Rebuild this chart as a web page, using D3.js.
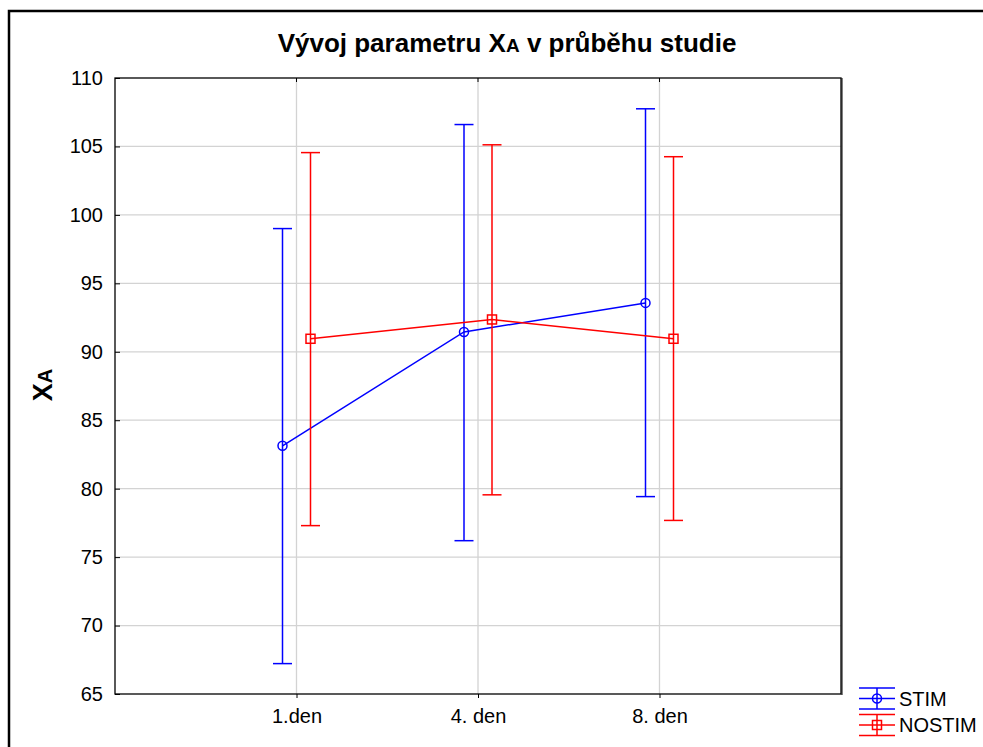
<!DOCTYPE html>
<html><head><meta charset="utf-8">
<script src="https://cdn.jsdelivr.net/npm/d3@7"></script>
<style>body{margin:0;background:#fff}svg{display:block}text{font-family:"Liberation Sans",Arial,sans-serif}</style>
</head><body>
<script>
const categories = ["1.den", "4. den", "8. den"];
const seriesNames = ["STIM", "NOSTIM"];
const stimMean = [83.13, 91.45, 93.57];
const stimLow  = [67.22, 76.2, 79.42];
const stimHigh = [99.0, 106.6, 107.75];
const nostimMean = [90.95, 92.36, 90.95];
const nostimLow  = [77.3, 79.55, 77.68];
const nostimHigh = [104.55, 105.12, 104.25];
const yTicks = [65, 70, 75, 80, 85, 90, 95, 100, 105, 110];

const W = 983, H = 747;
const m = {left: 115, right: 841, top: 78, bottom: 694};
const svg = d3.select("body").append("svg").attr("width", W).attr("height", H);

// outer frame
svg.append("path").attr("d", `M9,${H+5} L9,11 L${W+5},11`).attr("fill", "none").attr("stroke", "#000").attr("stroke-width", 2.5);

const x = d3.scalePoint().domain(categories).range([m.left, m.right]).padding(1);
const y = d3.scaleLinear().domain([65, 110]).range([m.bottom, m.top]);

// grid
svg.append("g").selectAll("line").data(yTicks.slice(1, -1)).join("line")
  .attr("x1", m.left).attr("x2", m.right).attr("y1", d => y(d)).attr("y2", d => y(d))
  .attr("stroke", "#d3d3d3").attr("stroke-width", 1.3);
svg.append("g").selectAll("line").data(categories).join("line")
  .attr("x1", d => x(d)).attr("x2", d => x(d)).attr("y1", m.top).attr("y2", m.bottom)
  .attr("stroke", "#d3d3d3").attr("stroke-width", 1.3);

// axes
const yAxis = d3.axisLeft(y).tickValues(yTicks).tickSize(-5).tickPadding(12);
const gy = svg.append("g").attr("transform", `translate(${m.left},0)`).call(yAxis);
gy.select(".domain").remove();
gy.selectAll("text").attr("font-size", 20).attr("fill", "#000");
const xAxis = d3.axisBottom(x).tickSize(4).tickPadding(11);
const gx = svg.append("g").attr("transform", `translate(0,${m.bottom})`).call(xAxis);
gx.select(".domain").remove();
gx.selectAll("text").attr("font-size", 20).attr("fill", "#000");
// top ticks
svg.append("g").selectAll("line").data(categories).join("line")
  .attr("x1", d => x(d)).attr("x2", d => x(d)).attr("y1", m.top).attr("y2", m.top + 4).attr("stroke", "#000");

// plot frame
svg.append("rect").attr("x", m.left).attr("y", m.top).attr("width", m.right - m.left).attr("height", m.bottom - m.top)
  .attr("fill", "none").attr("stroke", "#000").attr("stroke-width", 1.3);
svg.append("line").attr("x1", m.right + 1).attr("x2", m.right + 1).attr("y1", m.top).attr("y2", m.bottom + 1).attr("stroke", "#000").attr("stroke-width", 1);

const series = [
  {name: seriesNames[0], mean: stimMean, low: stimLow, high: stimHigh, color: "#0000ff", dx: -14, shape: "circle"},
  {name: seriesNames[1], mean: nostimMean, low: nostimLow, high: nostimHigh, color: "#ff0000", dx: 14, shape: "square"}
];
const capW = 9.5;

series.forEach(s => {
  const g = svg.append("g");
  const pts = categories.map((c, i) => ({cx: x(c) + s.dx, m: s.mean[i], lo: s.low[i], hi: s.high[i]}));
  g.selectAll("line.v").data(pts).join("line")
    .attr("x1", d => d.cx).attr("x2", d => d.cx).attr("y1", d => y(d.lo)).attr("y2", d => y(d.hi))
    .attr("stroke", s.color).attr("stroke-width", 1.5);
  ["lo", "hi"].forEach(k => {
    g.selectAll("line.c" + k).data(pts).join("line")
      .attr("x1", d => d.cx - capW).attr("x2", d => d.cx + capW).attr("y1", d => y(d[k])).attr("y2", d => y(d[k]))
      .attr("stroke", s.color).attr("stroke-width", 1.5);
  });
  g.append("path").datum(pts).attr("d", d3.line().x(d => d.cx).y(d => y(d.m)))
    .attr("fill", "none").attr("stroke", s.color).attr("stroke-width", 1.5);
  if (s.shape === "circle") {
    g.selectAll("circle").data(pts).join("circle").attr("cx", d => d.cx).attr("cy", d => y(d.m)).attr("r", 4.5)
      .attr("fill", "none").attr("stroke", s.color).attr("stroke-width", 1.5);
  } else {
    g.selectAll("rect").data(pts).join("rect").attr("x", d => d.cx - 4.5).attr("y", d => y(d.m) - 4.5)
      .attr("width", 9).attr("height", 9).attr("fill", "none").attr("stroke", s.color).attr("stroke-width", 1.5);
  }
});

// title
const title = svg.append("text").attr("x", 507).attr("y", 52).attr("text-anchor", "middle")
  .attr("font-size", 26).attr("font-weight", "bold");
title.append("tspan").text("Vývoj parametru X");
title.append("tspan").attr("font-size", 19).text("A");
title.append("tspan").text(" v průběhu studie");

// y label
const yl = svg.append("text").attr("transform", "translate(52,385) rotate(-90)").attr("text-anchor", "middle")
  .attr("font-size", 27).attr("font-weight", "bold");
yl.append("tspan").text("X");
yl.append("tspan").attr("font-size", 20).text("A");

// legend
const leg = svg.append("g");
series.forEach((s, i) => {
  const cy = 698.5 + i * 26.5;
  const lg = leg.append("g");
  [-10.5, 0, 10.5].forEach(o => lg.append("line").attr("x1", 859).attr("x2", 895).attr("y1", cy + o).attr("y2", cy + o)
    .attr("stroke", s.color).attr("stroke-width", 1.5));
  lg.append("line").attr("x1", 877).attr("x2", 877).attr("y1", cy - 10.5).attr("y2", cy + 10.5).attr("stroke", s.color).attr("stroke-width", 1.5);
  if (s.shape === "circle") lg.append("circle").attr("cx", 877).attr("cy", cy).attr("r", 4.5).attr("fill", "none").attr("stroke", s.color).attr("stroke-width", 1.5);
  else lg.append("rect").attr("x", 872.5).attr("y", cy - 4.5).attr("width", 9).attr("height", 9).attr("fill", "none").attr("stroke", s.color).attr("stroke-width", 1.5);
  lg.append("text").attr("x", 899).attr("y", cy + 7).attr("font-size", 20).text(s.name);
});
</script>
</body></html>
